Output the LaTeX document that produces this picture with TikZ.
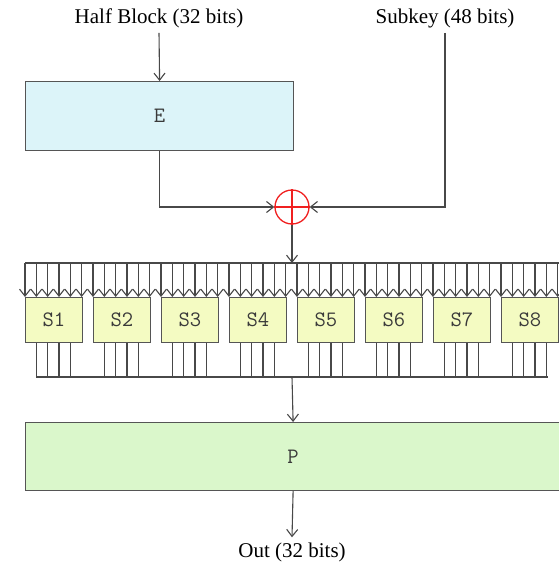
\documentclass[tikz,border=0pt]{standalone}
\usepackage{fontspec}
\setmainfont{Liberation Serif}
\usetikzlibrary{arrows.meta,calc}
\definecolor{ink}{HTML}{484848}
\definecolor{edge}{HTML}{555555}
\definecolor{label}{HTML}{3A3A3A}
\definecolor{efill}{HTML}{DCF4F9}
\definecolor{sfill}{HTML}{F4FBC2}
\definecolor{pfill}{HTML}{DAF7CB}
\definecolor{xorred}{HTML}{F02020}

\begin{document}
\begin{tikzpicture}[x=1pt,y=-1pt,>={Straight Barb[length=7pt,width=11pt]},
      box/.style={draw=edge,line width=1.2pt,anchor=north west,inner sep=0pt,
                  font=\fontsize{22}{26}\selectfont\ttfamily,text=label},
      wire/.style={draw=ink,line width=1.1pt},
      caption/.style={font=\fontsize{21}{25}\selectfont,text=black,inner sep=5pt}]
    \useasboundingbox (0,0) rectangle (558,565);
    \node[caption] (half) at (159,18) {Half Block (32 bits)};
    \node[caption] (subkey) at (445,18) {Subkey (48 bits)};
    \node[box,fill=efill,minimum width=268pt,minimum height=69pt] (E) at (25,81) {E};
    \node[circle,draw=xorred,line width=1.3pt,minimum size=34pt,inner sep=0pt] (xor) at (292,207) {};
    \draw[xorred,line width=1.3pt] (xor.north) -- (xor.south) (xor.west) -- (xor.east);
    \draw[wire,->] (half.south) -- (E.north);
    \draw[wire,->] (E.south) |- (xor.west);
    \draw[wire,->] (subkey.south) |- (xor.east);

    \coordinate (bus) at (292,263);
    \coordinate (join) at (292,377);
    \foreach \k in {1,...,8}
      \node[box,fill=sfill,minimum width=56.67pt,minimum height=45pt] (S\k) at ({25+(\k-1)*68},297) {S\k};
    \draw[wire,->] (xor.south) -- (bus);
    \draw[wire] (S1.north west |- bus) -- (S8.north east |- bus);
    \foreach \k in {1,...,8} {
      \foreach \j in {0,...,5}
        \draw[wire,->] ([xshift=\j*11.333pt]S\k.north west |- bus) -- ([xshift=\j*11.333pt]S\k.north west);
      \foreach \j in {1,...,4}
        \draw[wire] ([xshift=\j*11.333pt]S\k.south west) -- ([xshift=\j*11.333pt]S\k.south west |- join);
    }
    \draw[wire] ([xshift=11.333pt]S1.south west |- join) -- ([xshift=-11.333pt]S8.south east |- join);

    \node[box,fill=pfill,minimum width=535pt,minimum height=68pt] (P) at (25,422) {P};
    \node[caption] (out) at (292,552) {Out (32 bits)};
    \draw[wire,->] (join) -- (P.north);
    \draw[wire,->] (P.south) -- (out.north);
\end{tikzpicture}
\end{document}
